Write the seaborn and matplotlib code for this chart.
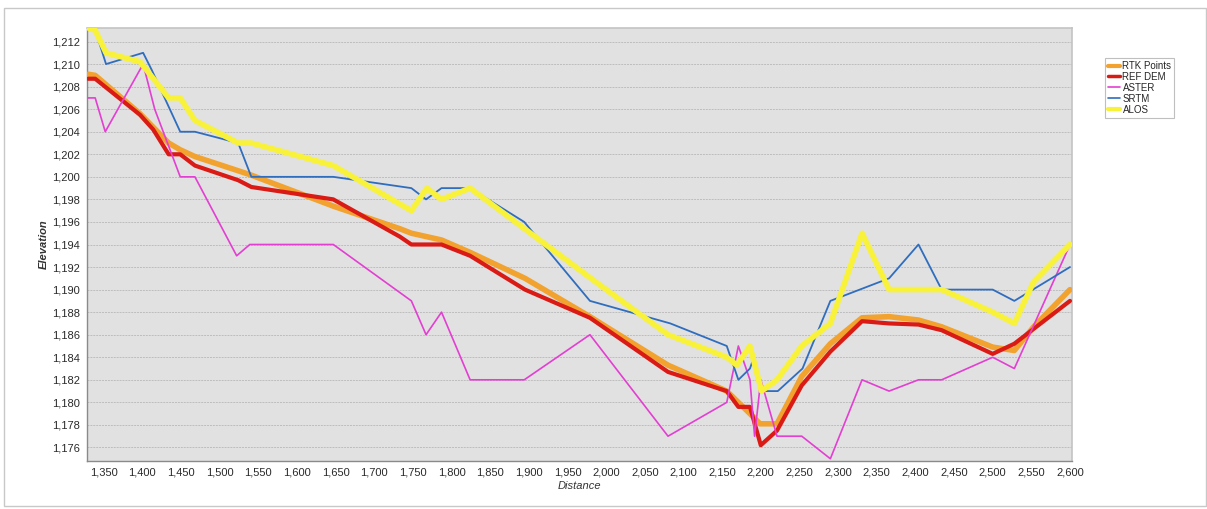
import matplotlib
matplotlib.use("Agg")
import matplotlib.pyplot as plt
import seaborn as sns
import pandas as pd
from matplotlib.patches import Rectangle
from matplotlib.ticker import FuncFormatter

# ---------------- data ----------------
series_names = ["RTK Points", "REF DEM", "ASTER", "SRTM", "ALOS"]

rtk_x = [1330, 1339, 1397, 1434, 1449, 1468, 1539, 1647, 1733, 1748, 1787, 1824, 1895, 1979,
         2080, 2156, 2171, 2186, 2199, 2221, 2253, 2290, 2331, 2366, 2404, 2434, 2500, 2528, 2553, 2600]
rtk_y = [1209.1, 1209.0, 1205.6, 1203.0, 1202.4, 1201.8, 1200.2, 1197.4, 1195.4, 1195.0, 1194.4, 1193.3,
         1191.0, 1187.6, 1183.3, 1181.0, 1180.0, 1179.0, 1178.1, 1178.1, 1182.3, 1185.2, 1187.5, 1187.6,
         1187.3, 1186.7, 1184.9, 1184.6, 1186.7, 1190.0]

ref_x = [1330, 1339, 1397, 1414, 1434, 1449, 1468, 1524, 1541, 1647, 1733, 1748, 1787, 1824, 1895,
         1979, 2080, 2156, 2171, 2186, 2200, 2221, 2253, 2290, 2331, 2366, 2404, 2434, 2500, 2528, 2600]
ref_y = [1208.7, 1208.7, 1205.5, 1204.2, 1202.0, 1202.0, 1201.0, 1199.7, 1199.1, 1198.0, 1194.7, 1194.0,
         1194.0, 1193.0, 1190.0, 1187.5, 1182.7, 1181.0, 1179.6, 1179.6, 1176.2, 1177.5, 1181.5, 1184.5,
         1187.2, 1187.0, 1186.9, 1186.4, 1184.3, 1185.2, 1189.0]

aster_x = [1330, 1339, 1352, 1401, 1416, 1449, 1468, 1522, 1539, 1647, 1748, 1767, 1787, 1824, 1894,
           1979, 2080, 2156, 2171, 2186, 2192, 2200, 2221, 2253, 2290, 2331, 2366, 2404, 2434, 2500,
           2528, 2600]
aster_y = [1207.0, 1207.0, 1204.0, 1210.0, 1206.0, 1200.0, 1200.0, 1193.0, 1194.0, 1194.0, 1189.0,
           1186.0, 1188.0, 1182.0, 1182.0, 1186.0, 1177.0, 1180.0, 1185.0, 1182.0, 1177.0, 1182.0,
           1177.0, 1177.0, 1175.0, 1182.0, 1181.0, 1182.0, 1182.0, 1184.0, 1183.0, 1194.0]

srtm_x = [1341, 1353, 1401, 1412, 1449, 1468, 1524, 1541, 1647, 1748, 1767, 1787, 1824, 1894, 1979,
          2083, 2156, 2171, 2186, 2191, 2201, 2222, 2254, 2290, 2366, 2404, 2434, 2500, 2528, 2600]
srtm_y = [1212.6, 1210.0, 1211.0, 1209.5, 1204.0, 1204.0, 1203.0, 1200.0, 1200.0, 1199.0, 1198.0,
          1199.0, 1199.0, 1196.0, 1189.0, 1187.0, 1185.0, 1182.0, 1183.0, 1184.0, 1181.0, 1181.0,
          1183.0, 1189.0, 1191.0, 1194.0, 1190.0, 1190.0, 1189.0, 1192.0]

alos_x = [1330, 1339, 1353, 1397, 1434, 1449, 1468, 1524, 1541, 1647, 1748, 1768, 1787, 1824, 1992,
          2080, 2156, 2169, 2186, 2201, 2221, 2253, 2290, 2331, 2366, 2434, 2500, 2528, 2553, 2600]
alos_y = [1213.2, 1213.0, 1211.0, 1210.2, 1207.0, 1207.0, 1205.0, 1203.0, 1203.0, 1201.0, 1197.0,
          1199.0, 1198.0, 1199.0, 1190.4, 1186.0, 1184.0, 1183.3, 1185.0, 1181.0, 1182.0, 1185.0,
          1187.0, 1195.0, 1190.0, 1190.0, 1188.0, 1187.0, 1190.7, 1194.0]

x_ticks = list(range(1350, 2601, 50))
y_ticks = list(range(1176, 1213, 2))

# ---------------- style ----------------
sns.set_theme(style="white")
plt.rcParams["font.family"] = ["Liberation Sans", "DejaVu Sans"]

colors = {"RTK Points": "#F2A22E", "REF DEM": "#DA1A14", "ASTER": "#E33FD2",
          "SRTM": "#2F6DBF", "ALOS": "#F8F23A"}
widths = {"RTK Points": 4.0, "REF DEM": 3.0, "ASTER": 1.2, "SRTM": 1.3, "ALOS": 4.0}
legend_widths = {"RTK Points": 3.0, "REF DEM": 2.5, "ASTER": 1.2, "SRTM": 1.2, "ALOS": 3.0}

fig = plt.figure(figsize=(12.07, 5.09), dpi=100)
fig.patches.append(Rectangle((4 / 1207, 1 - 506 / 509), 1202 / 1207, 498 / 509,
                             transform=fig.transFigure, fill=False,
                             edgecolor="#C8C8C8", linewidth=1.0))
ax = fig.add_axes([87 / 1207, 1 - 461 / 509, (1072 - 87) / 1207, (461 - 28) / 509])
ax.set_facecolor("#E1E1E1")

data = {
    "RTK Points": (rtk_x, rtk_y),
    "REF DEM": (ref_x, ref_y),
    "ASTER": (aster_x, aster_y),
    "SRTM": (srtm_x, srtm_y),
    "ALOS": (alos_x, alos_y),
}

for i, name in enumerate(series_names):
    xs, ys = data[name]
    df = pd.DataFrame({"Distance": xs, "Elevation": ys})
    sns.lineplot(data=df, x="Distance", y="Elevation", ax=ax, sort=False,
                 estimator=None, color=colors[name], linewidth=widths[name],
                 label=name, zorder=3 + i, solid_joinstyle="round")

ax.set_xlim(1328.4, 2602.6)
ax.set_ylim(1174.8, 1213.2)
ax.set_xticks(x_ticks)
ax.set_yticks(y_ticks)
fmt = FuncFormatter(lambda v, p: f"{int(v):,}")
ax.xaxis.set_major_formatter(fmt)
ax.yaxis.set_major_formatter(fmt)
ax.tick_params(axis="both", labelsize=8, labelcolor="#2A2A2A", length=3, width=0.8,
               direction="out", pad=2, color="#808080")
ax.yaxis.grid(True, color="#BDBDBD", linewidth=0.7, linestyle=(0, (2, 1)))
ax.xaxis.grid(False)
ax.set_axisbelow(True)

for s in ["left", "bottom"]:
    ax.spines[s].set_color("#8A8A8A")
    ax.spines[s].set_linewidth(1.0)
for s in ["top", "right"]:
    ax.spines[s].set_color("#C4C4C4")
    ax.spines[s].set_linewidth(1.2)

ax.set_xlabel("Distance", fontsize=8, style="italic", color="#333333", labelpad=2)
ax.set_ylabel("Elevation", fontsize=8, style="italic", fontweight="bold", color="#333333", labelpad=2)

leg = ax.legend(loc="upper left", bbox_to_anchor=(1105 / 1207, 1 - 58 / 509),
                bbox_transform=fig.transFigure, fontsize=7, frameon=True,
                fancybox=False, handlelength=1.2, handletextpad=0.3,
                borderpad=0.3, labelspacing=0.1, borderaxespad=0)
leg.get_frame().set_edgecolor("#B0B0B0")
leg.get_frame().set_linewidth(0.8)
for line, name in zip(leg.get_lines(), series_names):
    line.set_linewidth(legend_widths[name])

fig.savefig("out.png", dpi=100)
